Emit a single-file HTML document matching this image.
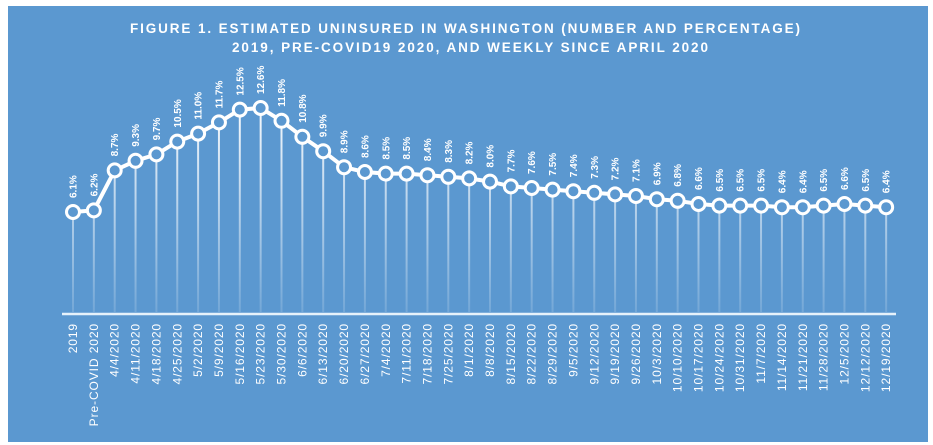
<!DOCTYPE html>
<html><head><meta charset="utf-8"><style>
html,body{margin:0;padding:0;background:#fff;width:933px;height:445px;overflow:hidden}
svg{display:block}
.v{font:bold 10px "Liberation Sans",sans-serif;fill:#fff}
.d{font:12px "Liberation Sans",sans-serif;fill:#fff;letter-spacing:0.9px}
.t{font:bold 13.5px "Liberation Sans",sans-serif;fill:#fff}
</style></head><body>
<svg width="933" height="445" viewBox="0 0 933 445" xmlns="http://www.w3.org/2000/svg">
<defs><linearGradient id="g" gradientUnits="userSpaceOnUse" x1="0" y1="110" x2="0" y2="312"><stop offset="0" stop-color="#fff" stop-opacity="0.95"/><stop offset="1" stop-color="#fff" stop-opacity="0.15"/></linearGradient></defs>
<rect x="8" y="6" width="920" height="436" fill="#5b98d0"/>
<text class="t" x="465" y="33" text-anchor="middle" textLength="670" lengthAdjust="spacing">FIGURE 1. ESTIMATED UNINSURED IN WASHINGTON (NUMBER AND PERCENTAGE)</text>
<text class="t" x="470" y="52" text-anchor="middle" textLength="476" lengthAdjust="spacing">2019, PRE-COVID19 2020, AND WEEKLY SINCE APRIL 2020</text>
<g stroke="url(#g)" stroke-width="2">
<line x1="73" y1="212" x2="73" y2="312"/><line x1="93.85" y1="210.4" x2="93.85" y2="312"/><line x1="114.7" y1="170.4" x2="114.7" y2="312"/><line x1="135.55" y1="160.8" x2="135.55" y2="312"/><line x1="156.4" y1="154.4" x2="156.4" y2="312"/><line x1="177.25" y1="141.6" x2="177.25" y2="312"/><line x1="198.1" y1="133.6" x2="198.1" y2="312"/><line x1="218.95" y1="122.4" x2="218.95" y2="312"/><line x1="239.8" y1="109.6" x2="239.8" y2="312"/><line x1="260.65" y1="108" x2="260.65" y2="312"/><line x1="281.5" y1="120.8" x2="281.5" y2="312"/><line x1="302.35" y1="136.8" x2="302.35" y2="312"/><line x1="323.2" y1="151.2" x2="323.2" y2="312"/><line x1="344.05" y1="167.2" x2="344.05" y2="312"/><line x1="364.9" y1="172" x2="364.9" y2="312"/><line x1="385.75" y1="173.6" x2="385.75" y2="312"/><line x1="406.6" y1="173.6" x2="406.6" y2="312"/><line x1="427.45" y1="175.2" x2="427.45" y2="312"/><line x1="448.3" y1="176.8" x2="448.3" y2="312"/><line x1="469.15" y1="178.4" x2="469.15" y2="312"/><line x1="490" y1="181.6" x2="490" y2="312"/><line x1="510.85" y1="186.4" x2="510.85" y2="312"/><line x1="531.7" y1="188" x2="531.7" y2="312"/><line x1="552.55" y1="189.6" x2="552.55" y2="312"/><line x1="573.4" y1="191.2" x2="573.4" y2="312"/><line x1="594.25" y1="192.8" x2="594.25" y2="312"/><line x1="615.1" y1="194.4" x2="615.1" y2="312"/><line x1="635.95" y1="196" x2="635.95" y2="312"/><line x1="656.8" y1="199.2" x2="656.8" y2="312"/><line x1="677.65" y1="200.8" x2="677.65" y2="312"/><line x1="698.5" y1="204" x2="698.5" y2="312"/><line x1="719.35" y1="205.6" x2="719.35" y2="312"/><line x1="740.2" y1="205.6" x2="740.2" y2="312"/><line x1="761.05" y1="205.6" x2="761.05" y2="312"/><line x1="781.9" y1="207.2" x2="781.9" y2="312"/><line x1="802.75" y1="207.2" x2="802.75" y2="312"/><line x1="823.6" y1="205.6" x2="823.6" y2="312"/><line x1="844.45" y1="204" x2="844.45" y2="312"/><line x1="865.3" y1="205.6" x2="865.3" y2="312"/><line x1="886.15" y1="207.2" x2="886.15" y2="312"/>
</g>
<line x1="62" y1="314" x2="896" y2="314" stroke="#e6f2fb" stroke-width="2.5"/>
<polyline fill="none" stroke="#fff" stroke-width="4" stroke-linejoin="round" points="73,212 93.85,210.4 114.7,170.4 135.55,160.8 156.4,154.4 177.25,141.6 198.1,133.6 218.95,122.4 239.8,109.6 260.65,108 281.5,120.8 302.35,136.8 323.2,151.2 344.05,167.2 364.9,172 385.75,173.6 406.6,173.6 427.45,175.2 448.3,176.8 469.15,178.4 490,181.6 510.85,186.4 531.7,188 552.55,189.6 573.4,191.2 594.25,192.8 615.1,194.4 635.95,196 656.8,199.2 677.65,200.8 698.5,204 719.35,205.6 740.2,205.6 761.05,205.6 781.9,207.2 802.75,207.2 823.6,205.6 844.45,204 865.3,205.6 886.15,207.2"/>
<g fill="#5b98d0" stroke="#fff" stroke-width="3">
<circle cx="73" cy="212" r="6.5"/><circle cx="93.85" cy="210.4" r="6.5"/><circle cx="114.7" cy="170.4" r="6.5"/><circle cx="135.55" cy="160.8" r="6.5"/><circle cx="156.4" cy="154.4" r="6.5"/><circle cx="177.25" cy="141.6" r="6.5"/><circle cx="198.1" cy="133.6" r="6.5"/><circle cx="218.95" cy="122.4" r="6.5"/><circle cx="239.8" cy="109.6" r="6.5"/><circle cx="260.65" cy="108" r="6.5"/><circle cx="281.5" cy="120.8" r="6.5"/><circle cx="302.35" cy="136.8" r="6.5"/><circle cx="323.2" cy="151.2" r="6.5"/><circle cx="344.05" cy="167.2" r="6.5"/><circle cx="364.9" cy="172" r="6.5"/><circle cx="385.75" cy="173.6" r="6.5"/><circle cx="406.6" cy="173.6" r="6.5"/><circle cx="427.45" cy="175.2" r="6.5"/><circle cx="448.3" cy="176.8" r="6.5"/><circle cx="469.15" cy="178.4" r="6.5"/><circle cx="490" cy="181.6" r="6.5"/><circle cx="510.85" cy="186.4" r="6.5"/><circle cx="531.7" cy="188" r="6.5"/><circle cx="552.55" cy="189.6" r="6.5"/><circle cx="573.4" cy="191.2" r="6.5"/><circle cx="594.25" cy="192.8" r="6.5"/><circle cx="615.1" cy="194.4" r="6.5"/><circle cx="635.95" cy="196" r="6.5"/><circle cx="656.8" cy="199.2" r="6.5"/><circle cx="677.65" cy="200.8" r="6.5"/><circle cx="698.5" cy="204" r="6.5"/><circle cx="719.35" cy="205.6" r="6.5"/><circle cx="740.2" cy="205.6" r="6.5"/><circle cx="761.05" cy="205.6" r="6.5"/><circle cx="781.9" cy="207.2" r="6.5"/><circle cx="802.75" cy="207.2" r="6.5"/><circle cx="823.6" cy="205.6" r="6.5"/><circle cx="844.45" cy="204" r="6.5"/><circle cx="865.3" cy="205.6" r="6.5"/><circle cx="886.15" cy="207.2" r="6.5"/>
</g>
<g class="v">
<text transform="translate(76.5,198) rotate(-90)">6.1%</text>
<text transform="translate(97.35,196.4) rotate(-90)">6.2%</text>
<text transform="translate(118.2,156.4) rotate(-90)">8.7%</text>
<text transform="translate(139.05,146.8) rotate(-90)">9.3%</text>
<text transform="translate(159.9,140.4) rotate(-90)">9.7%</text>
<text transform="translate(180.75,127.6) rotate(-90)">10.5%</text>
<text transform="translate(201.6,119.6) rotate(-90)">11.0%</text>
<text transform="translate(222.45,108.4) rotate(-90)">11.7%</text>
<text transform="translate(243.3,95.6) rotate(-90)">12.5%</text>
<text transform="translate(264.15,94) rotate(-90)">12.6%</text>
<text transform="translate(285,106.8) rotate(-90)">11.8%</text>
<text transform="translate(305.85,122.8) rotate(-90)">10.8%</text>
<text transform="translate(326.7,137.2) rotate(-90)">9.9%</text>
<text transform="translate(347.55,153.2) rotate(-90)">8.9%</text>
<text transform="translate(368.4,158) rotate(-90)">8.6%</text>
<text transform="translate(389.25,159.6) rotate(-90)">8.5%</text>
<text transform="translate(410.1,159.6) rotate(-90)">8.5%</text>
<text transform="translate(430.95,161.2) rotate(-90)">8.4%</text>
<text transform="translate(451.8,162.8) rotate(-90)">8.3%</text>
<text transform="translate(472.65,164.4) rotate(-90)">8.2%</text>
<text transform="translate(493.5,167.6) rotate(-90)">8.0%</text>
<text transform="translate(514.35,172.4) rotate(-90)">7.7%</text>
<text transform="translate(535.2,174) rotate(-90)">7.6%</text>
<text transform="translate(556.05,175.6) rotate(-90)">7.5%</text>
<text transform="translate(576.9,177.2) rotate(-90)">7.4%</text>
<text transform="translate(597.75,178.8) rotate(-90)">7.3%</text>
<text transform="translate(618.6,180.4) rotate(-90)">7.2%</text>
<text transform="translate(639.45,182) rotate(-90)">7.1%</text>
<text transform="translate(660.3,185.2) rotate(-90)">6.9%</text>
<text transform="translate(681.15,186.8) rotate(-90)">6.8%</text>
<text transform="translate(702,190) rotate(-90)">6.6%</text>
<text transform="translate(722.85,191.6) rotate(-90)">6.5%</text>
<text transform="translate(743.7,191.6) rotate(-90)">6.5%</text>
<text transform="translate(764.55,191.6) rotate(-90)">6.5%</text>
<text transform="translate(785.4,193.2) rotate(-90)">6.4%</text>
<text transform="translate(806.25,193.2) rotate(-90)">6.4%</text>
<text transform="translate(827.1,191.6) rotate(-90)">6.5%</text>
<text transform="translate(847.95,190) rotate(-90)">6.6%</text>
<text transform="translate(868.8,191.6) rotate(-90)">6.5%</text>
<text transform="translate(889.65,193.2) rotate(-90)">6.4%</text>
</g>
<g class="d" text-anchor="end">
<text transform="translate(77,323) rotate(-90)">2019</text>
<text transform="translate(97.85,323) rotate(-90)">Pre-COVID 2020</text>
<text transform="translate(118.7,323) rotate(-90)">4/4/2020</text>
<text transform="translate(139.55,323) rotate(-90)">4/11/2020</text>
<text transform="translate(160.4,323) rotate(-90)">4/18/2020</text>
<text transform="translate(181.25,323) rotate(-90)">4/25/2020</text>
<text transform="translate(202.1,323) rotate(-90)">5/2/2020</text>
<text transform="translate(222.95,323) rotate(-90)">5/9/2020</text>
<text transform="translate(243.8,323) rotate(-90)">5/16/2020</text>
<text transform="translate(264.65,323) rotate(-90)">5/23/2020</text>
<text transform="translate(285.5,323) rotate(-90)">5/30/2020</text>
<text transform="translate(306.35,323) rotate(-90)">6/6/2020</text>
<text transform="translate(327.2,323) rotate(-90)">6/13/2020</text>
<text transform="translate(348.05,323) rotate(-90)">6/20/2020</text>
<text transform="translate(368.9,323) rotate(-90)">6/27/2020</text>
<text transform="translate(389.75,323) rotate(-90)">7/4/2020</text>
<text transform="translate(410.6,323) rotate(-90)">7/11/2020</text>
<text transform="translate(431.45,323) rotate(-90)">7/18/2020</text>
<text transform="translate(452.3,323) rotate(-90)">7/25/2020</text>
<text transform="translate(473.15,323) rotate(-90)">8/1/2020</text>
<text transform="translate(494,323) rotate(-90)">8/8/2020</text>
<text transform="translate(514.85,323) rotate(-90)">8/15/2020</text>
<text transform="translate(535.7,323) rotate(-90)">8/22/2020</text>
<text transform="translate(556.55,323) rotate(-90)">8/29/2020</text>
<text transform="translate(577.4,323) rotate(-90)">9/5/2020</text>
<text transform="translate(598.25,323) rotate(-90)">9/12/2020</text>
<text transform="translate(619.1,323) rotate(-90)">9/19/2020</text>
<text transform="translate(639.95,323) rotate(-90)">9/26/2020</text>
<text transform="translate(660.8,323) rotate(-90)">10/3/2020</text>
<text transform="translate(681.65,323) rotate(-90)">10/10/2020</text>
<text transform="translate(702.5,323) rotate(-90)">10/17/2020</text>
<text transform="translate(723.35,323) rotate(-90)">10/24/2020</text>
<text transform="translate(744.2,323) rotate(-90)">10/31/2020</text>
<text transform="translate(765.05,323) rotate(-90)">11/7/2020</text>
<text transform="translate(785.9,323) rotate(-90)">11/14/2020</text>
<text transform="translate(806.75,323) rotate(-90)">11/21/2020</text>
<text transform="translate(827.6,323) rotate(-90)">11/28/2020</text>
<text transform="translate(848.45,323) rotate(-90)">12/5/2020</text>
<text transform="translate(869.3,323) rotate(-90)">12/12/2020</text>
<text transform="translate(890.15,323) rotate(-90)">12/19/2020</text>
</g>
</svg>
</body></html>
